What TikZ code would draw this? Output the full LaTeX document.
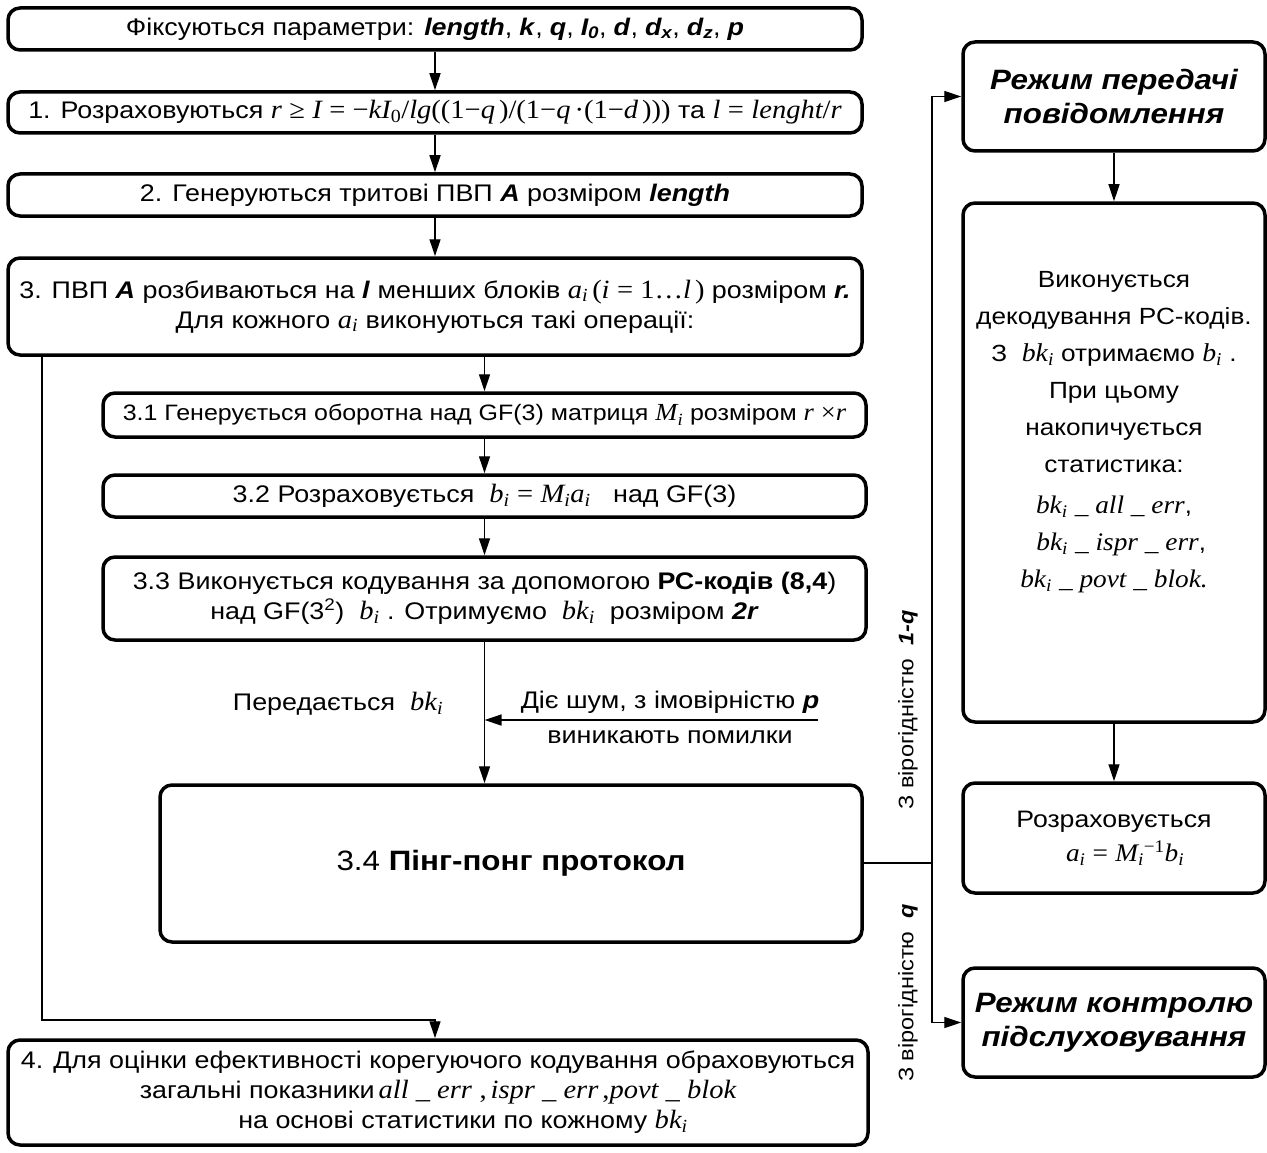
\documentclass[tikz,border=0pt]{standalone}
\usepackage{fontspec}
\setmainfont{Liberation Sans}[FakeStretch=1.12]
\newfontfamily\tms{Liberation Serif}[FakeStretch=1.08,Scale=1.1]
\usetikzlibrary{arrows.meta}
\newcommand{\bi}[1]{\textbf{\textit{#1}}}
\newcommand{\mi}[1]{{\tms\itshape #1}}
\newcommand{\mr}[1]{{\tms #1}}
\newcommand{\lo}[1]{\textsubscript{#1}}
\newcommand{\ii}{\lo{\mi{i}}}
\newcommand{\cs}{,\hspace{7pt}}
\tikzset{
  box/.style={draw, line width=3.5pt, rounded corners=12pt, align=center, inner sep=0pt},
  arr/.style={-{Triangle[length=17pt,width=11pt]}, line width=1.3pt},
  ln/.style={line width=1.3pt},
  txt/.style={align=center, inner sep=0pt},
}
\begin{document}
\begin{tikzpicture}[x=1pt,y=-1pt,font=\fontsize{24}{30}\selectfont]
\useasboundingbox (0,0) rectangle (1267,1153);
% left column
\node[box, minimum width=854pt, minimum height=42pt] (n0) at (435,29)
  {Фіксуються параметри: \bi{length}\cs\bi{k}\cs\bi{q}\cs\bi{I\lo{0}}\cs\bi{d}\cs\bi{d\lo{x}}\cs\bi{d\lo{z}}\cs\bi{p}};
\node[box, minimum width=854pt, minimum height=41pt] (n1) at (435,112.5)
  {1. Розраховуються \mi{r} \mr{≥} \mi{I} \mr{= −}\mi{kI}\lo{\mr{0}}\mr{/}\mi{lg}\mr{((1−}\mi{q}\,\mr{)/(1−}\mi{q}\,\mr{·(1−}\mi{d}\,\mr{)))} та \mi{l} \mr{=} \mi{lenght}\mr{/}\mi{r}};
\node[box, minimum width=854pt, minimum height=42pt] (n2) at (435,195)
  {2. Генеруються тритові ПВП \bi{A} розміром \bi{length}};
\node[box, minimum width=854pt, minimum height=97pt] (n3) at (435,306.5)
  {3. ПВП \bi{A} розбиваються на \bi{l} менших блоків \mi{a}\ii\,\mr{(}\mi{i} \mr{= 1…}\mi{l}\,\mr{)} розміром \bi{r.}\\
   Для кожного \mi{a}\ii\ виконуються такі операції:};
\node[box, minimum width=763pt, minimum height=44pt, font=\fontsize{22.3}{28}\selectfont] (n31) at (484.5,415)
  {3.1 Генерується оборотна над GF(3) матриця \mi{M}\ii\ розміром \mi{r} \mr{×}\mi{r}};
\node[box, minimum width=763pt, minimum height=42pt] (n32) at (484.5,496)
  {3.2 Розраховується \ \mi{b}\ii\ \mr{=} \mi{M}\ii\mi{a}\ii\ \ \ над GF(3)};
\node[box, minimum width=763pt, minimum height=83pt] (n33) at (484.5,598.5)
  {3.3 Виконується кодування за допомогою \textbf{РС-кодів (8,4})\\
   над GF(3\textsuperscript{2}) \ \mi{b}\ii\ . Отримуємо \ \mi{bk}\ii\ \ розміром \bi{2r}};
\node[box, minimum width=702pt, minimum height=157pt, font=\fontsize{28}{32}\selectfont] (n34) at (511,863.5)
  {3.4 \textbf{Пінг-понг протокол}};
\node[box, minimum width=860pt, minimum height=105pt] (n4) at (438,1092.5)
  {4. Для оцінки ефективності корегуючого кодування обраховуються\\
   загальні показники\,\mi{all \_ err} \mr{,}\,\mi{ispr \_ err}\,\mr{,}\mi{povt \_ blok}\\
   \hspace*{50pt}на основі статистики по кожному \mi{bk}\ii};
% texts on the transfer line
\node[txt] (tx) at (338,704) {Передається \ \mi{bk}\ii};
\node[txt] (nz1) at (670,702) {Діє шум, з імовірністю \bi{p}};
\node[txt] (nz2) at (670,737) {виникають помилки};
\coordinate (nz) at (818,720);
% right column
\node[box, minimum width=302pt, minimum height=109pt, font=\fontsize{28}{34}\selectfont\bfseries\itshape] (r1) at (1114,96.5)
  {Режим передачі\\повідомлення};
\node[box, minimum width=302pt, minimum height=519pt] (r2) at (1114,462.5) {};
\node[txt, font=\fontsize{23.4}{37}\selectfont] (r2t) at (1114,432)
  {Виконується\\
   декодування РС-кодів.\\
   З \ \mi{bk}\ii\ отримаємо \mi{b}\ii\ .\\
   При цьому\\
   накопичується\\
   статистика:\\[4pt]
   {\fontsize{23}{35}\selectfont\mi{bk}\ii\ \mi{\_ all \_ err},}\\
   {\fontsize{23}{35}\selectfont\ \ \mi{bk}\ii\ \mi{\_ ispr \_ err},}\\
   {\fontsize{23}{35}\selectfont\mi{bk}\ii\ \mi{\_ povt \_ blok.}}};
\node[box, minimum width=302pt, minimum height=110pt, font=\fontsize{23.8}{34}\selectfont] (r3) at (1114,838)
  {Розраховується\\
   \ \ \ {\fontsize{23}{30}\selectfont\mi{a}\ii\ \mr{=} \mi{M}\ii\textsuperscript{\mr{−1}}\mi{b}\ii}};
\node[box, minimum width=302pt, minimum height=109pt, font=\fontsize{28}{34}\selectfont\bfseries\itshape] (r4) at (1114,1022.5)
  {Режим контролю\\підслуховування};
\node[txt, rotate=90, font=\fontsize{21}{25}\selectfont] (p1) at (908,710) {З вірогідністю \ \bi{1-q}};
\node[txt, rotate=90, font=\fontsize{21}{25}\selectfont] (p2) at (908,993) {З вірогідністю \ \bi{q}};
% connectors
\draw[arr] (n0) -- (n1);
\draw[arr] (n1) -- (n2);
\draw[arr] (n2) -- (n3);
\draw[arr] (n3.south -| n31) -- (n31);
\draw[arr] (n31) -- (n32);
\draw[arr] (n32) -- (n33);
\draw[arr] (n33) -- (n34.north -| n33);
\draw[arr] (nz) -- (nz -| n33.south);
\coordinate (lc) at (42,1020);
\draw[arr] (n3.south -| lc) -- (lc) -| (n4.north -| n0.south);
\coordinate (rj) at (932,863);
\draw[ln] (n34.east |- rj) -- (rj);
\draw[arr] (rj) |- (r1.west);
\draw[arr] (rj) |- (r4.west);
\draw[arr] (r1) -- (r2);
\draw[arr] (r2) -- (r3);
\end{tikzpicture}
\end{document}
